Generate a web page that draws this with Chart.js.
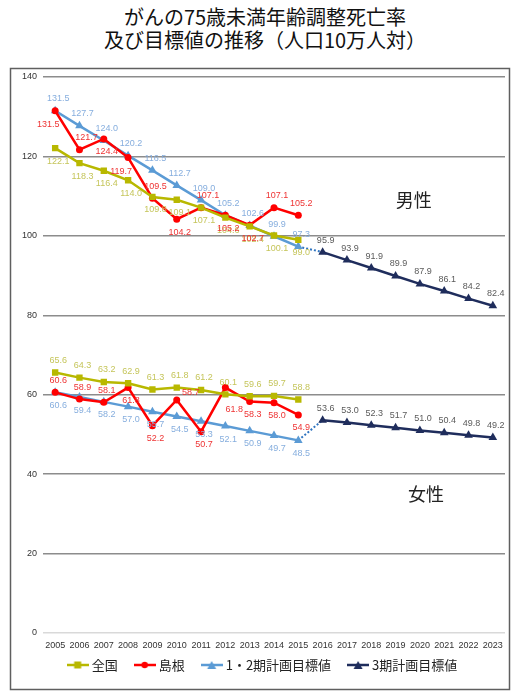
<!DOCTYPE html>
<html>
<head>
<meta charset="utf-8">
<script src="https://cdn.jsdelivr.net/npm/chart.js@4/dist/chart.umd.min.js"></script>
<style>
body { margin: 0; background: #fff; width: 517px; height: 697px; overflow: hidden; position: relative; font-family: "Noto Sans CJK JP", sans-serif; }
#title { position: absolute; left: 0; top: 5px; width: 530px; text-align: center; font-size: 20px; line-height: 23px; color: #111; }
#wrap { position: absolute; left: 0; top: 0; width: 517px; height: 697px; }
</style>
</head>
<body>
<div id="title">がんの75歳未満年齢調整死亡率<br>及び目標値の推移（人口10万人対）</div>
<div id="wrap"><canvas id="c"></canvas></div>
<script>
// years on the x axis
const years = ['2005','2006','2007','2008','2009','2010','2011','2012','2013','2014',
               '2015','2016','2017','2018','2019','2020','2021','2022','2023'];
const yTicks = [0, 20, 40, 60, 80, 100, 120, 140];

// male (2005-2015 actual, targets)
const maleNational = [122.1, 118.3, 116.4, 114, 109.8, 109.1, 107.1, 104.6, 102.4, 100.1, 99.0];
const maleShimane  = [131.5, 121.7, 124.4, 119.7, 109.5, 104.2, 107.1, 105.2, 102.7, 107.1, 105.2];
const maleTarget12 = [131.5, 127.7, 124.0, 120.2, 116.5, 112.7, 109.0, 105.2, 102.6, 99.9, 97.3];
const maleTarget3  = [95.9, 93.9, 91.9, 89.9, 87.9, 86.1, 84.2, 82.4];

// female
const femaleNational = [65.6, 64.3, 63.2, 62.9, 61.3, 61.8, 61.2, 60.1, 59.6, 59.7, 58.8];
const femaleShimane  = [60.6, 58.9, 58.1, 61.8, 52.2, 58.7, 50.7, 61.8, 58.3, 58.0, 54.9];
const femaleTarget12 = [60.6, 59.4, 58.2, 57.0, 55.7, 54.5, 53.3, 52.1, 50.9, 49.7, 48.5];
const femaleTarget3  = [53.6, 53.0, 52.3, 51.7, 51.0, 50.4, 49.8, 49.2];

const COL_NAT = '#b8b800', COL_SHI = '#ff0000', COL_T12 = '#5b9bd5', COL_T3 = '#1f2d5c';

// label placement: a = above, b = below, r = right
const posMaleShimane   = ['bl','ar','b','bl','a','b','ar','b','b','a','a'];
const posFemaleShimane = ['a','a','a','b','b','r','b','br','b','b','b'];

function place(arr, start) {
  const out = years.map(() => null);
  arr.forEach((v, i) => { out[start + i] = v; });
  return out;
}
function startIdx(y) { return years.indexOf(y); }

function legendIcon(color, style) {
  const c = document.createElement('canvas');
  c.width = 22; c.height = 12;
  const g = c.getContext('2d');
  g.strokeStyle = color; g.fillStyle = color; g.lineWidth = 2.5;
  g.beginPath(); g.moveTo(0, 6); g.lineTo(22, 6); g.stroke();
  g.beginPath();
  if (style === 'rect') g.rect(7.5, 2.5, 7, 7);
  else if (style === 'circle') g.arc(11, 6, 3.2, 0, Math.PI * 2);
  else { g.moveTo(11, 2); g.lineTo(15.5, 10); g.lineTo(6.5, 10); g.closePath(); }
  g.fill();
  return c;
}

function series(label, data, start, color, style, radius, labelColor, pos, legend) {
  return {
    label: label,
    data: place(data, start),
    borderColor: color,
    backgroundColor: color,
    borderWidth: 2.5,
    pointStyle: style,
    pointRadius: radius,
    pointBorderWidth: 0,
    spanGaps: false,
    labelColor: labelColor,
    labelPos: typeof pos === 'string' ? pos : place(pos, start),
    legendIcon: legend ? legendIcon(color, style) : null
  };
}

function connector(a, b) {
  const d = years.map(() => null);
  d[startIdx('2015')] = a[a.length - 1];
  d[startIdx('2016')] = b[0];
  return { data: d, borderColor: '#2f74c0', borderWidth: 2, borderDash: [2, 2], pointRadius: 0, legendIcon: null };
}

const datasets = [
  series('全国', maleNational, 0, COL_NAT, 'rect', 4.5, '#c5c55a', 'b', true),
  series('島根', maleShimane, 0, COL_SHI, 'circle', 3.5, '#ee3333', posMaleShimane, true),
  series('1・2期計画目標値', maleTarget12, 0, COL_T12, 'triangle', 5, '#86aede', 'a', true),
  series('3期計画目標値', maleTarget3, startIdx('2016'), COL_T3, 'triangle', 5, '#5a5a5a', 'a', true),
  series('全国', femaleNational, 0, COL_NAT, 'rect', 4.5, '#c5c55a', 'a', false),
  series('島根', femaleShimane, 0, COL_SHI, 'circle', 3.5, '#ee3333', posFemaleShimane, false),
  series('1・2期計画目標値', femaleTarget12, 0, COL_T12, 'triangle', 5, '#86aede', 'b', false),
  series('3期計画目標値', femaleTarget3, startIdx('2016'), COL_T3, 'triangle', 5, '#5a5a5a', 'a', false),
  connector(maleTarget12, maleTarget3),
  connector(femaleTarget12, femaleTarget3)
];

const frameBox = {
  id: 'frameBox',
  beforeDraw(chart) {
    const ctx = chart.ctx;
    ctx.save();
    ctx.strokeStyle = '#5f5f5f';
    ctx.lineWidth = 1.5;
    ctx.strokeRect(10.5, 68.5, 499, 621);
    ctx.restore();
  }
};

const valueLabels = {
  id: 'valueLabels',
  afterDatasetsDraw(chart) {
    const ctx = chart.ctx;
    ctx.save();
    ctx.font = '9px "Liberation Sans"';
    ctx.textAlign = 'center';
    ctx.textBaseline = 'middle';
    chart.data.datasets.forEach((ds, i) => {
      if (!ds.labelColor) return;
      const meta = chart.getDatasetMeta(i);
      ctx.fillStyle = ds.labelColor;
      meta.data.forEach((pt, j) => {
        const v = ds.data[j];
        if (v == null) return;
        const p = typeof ds.labelPos === 'string' ? ds.labelPos : ds.labelPos[j];
        let dx = 3, dy = -12;
        if (p === 'b') { dy = 13; }
        if (p === 'bl') { dx = -7; dy = 14; }
        if (p === 'ar') { dx = 7; dy = -12; }
        if (p === 'br') { dx = 9; dy = 22; }
        if (p === 'r') { dx = 14; dy = -7; }
        ctx.fillText(v.toFixed(1), pt.x + dx, pt.y + dy);
      });
    });
    // group captions
    const xs = chart.scales.x, ys = chart.scales.y;
    ctx.font = '18px "Noto Sans CJK JP"';
    ctx.fillStyle = '#222';
    ctx.fillText('男性', xs.getPixelForValue(14.75), ys.getPixelForValue(109));
    ctx.fillText('女性', xs.getPixelForValue(15.25), ys.getPixelForValue(35));
    ctx.restore();
  }
};

// legend row under the x axis: line+marker icon, then the series name
const legendRow = {
  id: 'legendRow',
  afterDraw(chart) {
    const ctx = chart.ctx;
    const items = chart.data.datasets.filter(d => d.legendIcon);
    ctx.save();
    ctx.font = '13px "Noto Sans CJK JP"';
    ctx.fillStyle = '#222';
    ctx.textAlign = 'left';
    ctx.textBaseline = 'middle';
    const iconW = 22, gapIcon = 3, gapItem = 16;
    const widths = items.map(d => iconW + gapIcon + ctx.measureText(d.label).width);
    const total = widths.reduce((a, b) => a + b, 0) + gapItem * (items.length - 1);
    let x = 262 - total / 2;
    const y = chart.chartArea.bottom + 32;
    items.forEach((d, i) => {
      ctx.drawImage(d.legendIcon, x, y - 6);
      ctx.fillText(d.label, x + iconW + gapIcon, y);
      x += widths[i] + gapItem;
    });
    ctx.restore();
  }
};

new Chart(document.getElementById('c'), {
  type: 'line',
  data: { labels: years, datasets: datasets },
  plugins: [frameBox, valueLabels, legendRow],
  options: {
    responsive: true,
    maintainAspectRatio: false,
    animation: false,
    layout: { padding: { left: 10, right: 12, top: 77, bottom: 46 } },
    plugins: {
      title: { display: false },
      tooltip: { enabled: false },
      legend: { display: false }
    },
    scales: {
      x: {
        offset: true,
        afterFit(s) { s.height = 18; },
        grid: { display: false, drawTicks: false },
        border: { display: false },
        ticks: { color: '#333', font: { family: '"Liberation Sans"', size: 9 }, maxRotation: 0, autoSkip: false, padding: 7 }
      },
      y: {
        min: 0,
        max: 140,
        afterBuildTicks(s) { s.ticks = yTicks.map(v => ({ value: v })); },
        afterFit(s) { s.width = 33; },
        grid: {
          drawTicks: false,
          lineWidth: 1.5,
          color: c => (c.tick && c.tick.value === 0 ? '#d9d9d9' : '#8c8c8c')
        },
        border: { display: false },
        ticks: { color: '#333', font: { family: '"Liberation Sans"', size: 9 }, padding: 6 }
      }
    }
  }
});
</script>
</body>
</html>
